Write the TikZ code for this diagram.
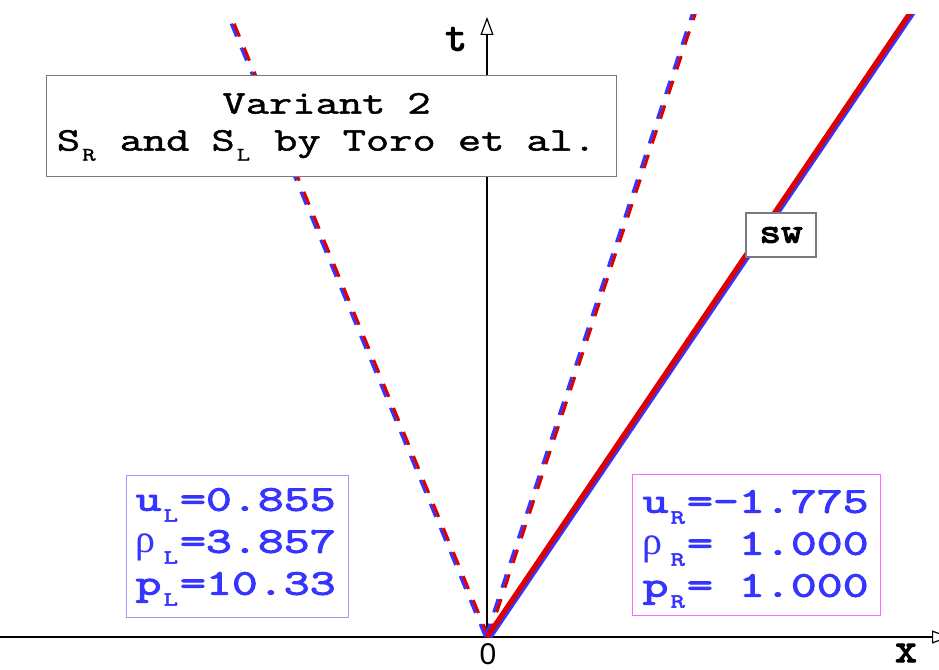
\documentclass[tikz,border=0pt]{standalone}
\usepackage{fontspec}
\setsansfont{Liberation Sans}
\newfontfamily\greekfont{Liberation Serif}
\newfontfamily\titlemono{Latin Modern Mono}[FakeStretch=1.37,FakeBold=1.5]
\newfontfamily\statemono{Latin Modern Mono}[FakeStretch=1.4,FakeBold=3]
\newfontfamily\tagmono{Latin Modern Mono}[FakeStretch=1.2,FakeBold=3.5]
\newfontfamily\labelmono{Latin Modern Mono}[FakeBold=3]
\usepackage{xcolor}
\usetikzlibrary{arrows.meta}
\definecolor{waveblue}{HTML}{3535FF}
\definecolor{wavered}{HTML}{DD0000}
\definecolor{leftframe}{HTML}{9A9AFF}
\definecolor{rightframe}{HTML}{FF66FF}
\definecolor{framegray}{HTML}{7A7A7A}
% small lowered index as in the plot labels
\newcommand{\lowsub}[3][11pt]{\kern2pt\raisebox{-#1}[0pt][0pt]{\fontsize{#2}{#2}\selectfont #3}\kern2pt\relax}
\newcommand{\rhoch}{\makebox[26pt][l]{\greekfont\fontsize{40}{40}\selectfont ρ}}
% one blank cell of the typewriter text
\newcommand{\tsp}{\kern22pt\relax}
\newcommand{\bsp}{\kern26pt\relax}
\tikzset{
  axisline/.style={
    line width=1.2pt,
    draw=black,
    -{Triangle[open,length=18pt,width=13pt]}
  },
  axislabel/.style={
    font=\labelmono\fontsize{42}{42}\selectfont,
    inner sep=0pt
  },
  fanblue/.style={
    draw=waveblue,
    line width=3pt,
    dash pattern=on 14pt off 12pt,
    transform canvas={xshift=-1.5pt}
  },
  fanred/.style={
    draw=wavered,
    line width=3pt,
    dash pattern=on 14pt off 12pt,
    transform canvas={xshift=1.5pt}
  },
  shockblue/.style={
    draw=waveblue,
    line width=5pt,
    transform canvas={xshift=3pt}
  },
  shockred/.style={
    draw=wavered,
    line width=5pt
  },
  titlebox/.style={
    draw=framegray,
    fill=white,
    line width=1.2pt,
    anchor=north west,
    inner xsep=0pt,
    inner ysep=0pt,
    align=center,
    font=\titlemono\fontsize{33}{37}\selectfont
  },
  wavetag/.style={
    draw=framegray,
    fill=white,
    line width=1.2pt,
    minimum width=70pt,
    minimum height=44pt,
    inner sep=0pt,
    font=\tagmono\fontsize{35}{35}\selectfont
  },
  statebox/.style={
    fill=white,
    line width=1.2pt,
    anchor=north west,
    inner ysep=0pt,
    align=left,
    text=waveblue,
    font=\statemono\fontsize{36}{42}\selectfont
  }
}
\begin{document}
\begin{tikzpicture}[x=1pt,y=-1pt]
  \useasboundingbox (0,0) rectangle (939,669);
  \coordinate (O) at (487,637);
  \coordinate (xend) at (950,637);
  \coordinate (tend) at (487,17);
  \coordinate (lfan) at (227,10);
  \coordinate (rfan) at (695,10);
  \coordinate (shock) at (912,10);

  % axes
  \draw[axisline] (0,637) -- (xend);
  \draw[axisline] (O) -- (tend);
  \node[axislabel] (tlab) at (456,39) {t};
  \node[axislabel] (xlab) at (906,653) {x};
  \node[font=\sffamily\fontsize{30}{30}\selectfont, inner sep=0pt, anchor=base] (zero) at (488,664) {0};

  % waves
  \begin{scope}
    \clip (0,15) rectangle (939,669);
    \draw[fanblue] (O) -- (lfan);
    \draw[fanred] (O) -- (lfan);
    \draw[fanblue] (O) -- (rfan);
    \draw[fanred] (O) -- (rfan);
    \draw[shockblue] (O) -- (shock);
    \draw[shockred] (O) -- (shock);
  \end{scope}

  \node[titlebox, text width=570pt, text height=38pt, text depth=63pt] (variant) at (46,75)
    {Variant\tsp 2\kern10pt\\S\lowsub[10pt]{19}{R}\tsp and\tsp S\lowsub[10pt]{19}{L}\tsp by\tsp Toro\tsp et\tsp al.\kern10pt};
  \node[wavetag] (swtag) at (781,235) {sw};

  \node[statebox, draw=leftframe, inner xsep=9pt, text width=204pt,
        text height=35pt, text depth=107pt] (leftstate) at (126,475)
    {u\lowsub{20}{L}=0.855\\\rhoch\lowsub{20}{L}=3.857\\p\lowsub{20}{L}=10.33};
  \node[statebox, draw=rightframe, inner xsep=10pt, text width=228pt,
        text height=38pt, text depth=103pt] (rightstate) at (632,474)
    {u\lowsub{20}{R}=-1.775\\\rhoch\lowsub{20}{R}=\bsp 1.000\\p\lowsub{20}{R}=\bsp 1.000};
\end{tikzpicture}
\end{document}
